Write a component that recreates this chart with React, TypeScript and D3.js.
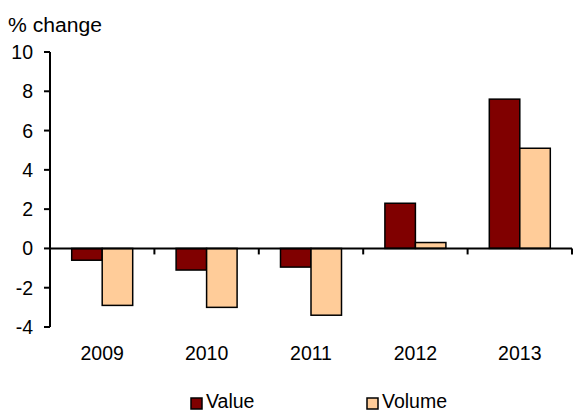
import * as d3 from "d3"

const years = ["2009", "2010", "2011", "2012", "2013"]
const valueChange = [-0.6, -1.1, -0.95, 2.3, 7.6]
const volumeChange = [-2.9, -3.0, -3.4, 0.3, 5.1]
const yTicks = [-4, -2, 0, 2, 4, 6, 8, 10]
const seriesNames = ["Value", "Volume"]
const seriesColors = ["#800000", "#FFCC99"]

const width = 573
const height = 412
const font = "'Liberation Sans', Arial, sans-serif"
const fs = 19.5

export default function App() {
  const x = d3.scaleBand().domain(years).range([50, 572]).paddingInner(0).paddingOuter(0)
  const y = d3.scaleLinear().domain([-4, 10]).range([327, 52])
  const inner = d3.scaleBand().domain(seriesNames).range([0, 61])
  const groupOffset = (x.bandwidth() - 61) / 2
  const series = [valueChange, volumeChange]
  const y0 = y(0)

  return (
    <svg
      width={width}
      height={height}
      style={{ position: "absolute", left: 0, top: 0, background: "#fff" }}
      fontFamily={font}
    >
      <text x={8} y={32} fontSize={fs} textLength={94} lengthAdjust="spacingAndGlyphs">% change</text>

      {/* bars */}
      {years.map((yr, i) => (
        <g key={yr} transform={`translate(${x(yr)! + groupOffset},0)`}>
          {series.map((s, j) => {
            const v = s[i]
            return (
              <rect
                key={j}
                x={inner(seriesNames[j])}
                y={Math.min(y(v), y0)}
                width={inner.bandwidth()}
                height={Math.abs(y(v) - y0)}
                fill={seriesColors[j]}
                stroke="#000"
                strokeWidth={1.5}
              />
            )
          })}
        </g>
      ))}

      {/* y axis */}
      <line x1={50} x2={50} y1={y(10)} y2={y(-4)} stroke="#000" strokeWidth={2} />
      {yTicks.map(t => (
        <g key={t}>
          <line x1={44} x2={50} y1={y(t)} y2={y(t)} stroke="#000" strokeWidth={2} />
          <text x={33} y={y(t)} dy="0.36em" textAnchor="end" fontSize={fs}>{t}</text>
        </g>
      ))}

      {/* x axis at zero */}
      <line x1={50} x2={572} y1={y0} y2={y0} stroke="#000" strokeWidth={2} />
      {years.map(yr => (
        <line key={yr} x1={x(yr)! + x.bandwidth()} x2={x(yr)! + x.bandwidth()} y1={y0} y2={y0 + 6} stroke="#000" strokeWidth={2} />
      ))}
      {years.map(yr => (
        <text key={yr} x={x(yr)! + x.bandwidth() / 2} y={360} textAnchor="middle" fontSize={fs}>{yr}</text>
      ))}

      {/* legend */}
      {seriesNames.map((n, j) => {
        const lx = j === 0 ? 191 : 367
        return (
          <g key={n}>
            <rect x={lx} y={398} width={11} height={11} fill={seriesColors[j]} stroke="#000" strokeWidth={1.5} />
            <text x={lx + 15} y={408} fontSize={fs}>{n}</text>
          </g>
        )
      })}
    </svg>
  )
}
